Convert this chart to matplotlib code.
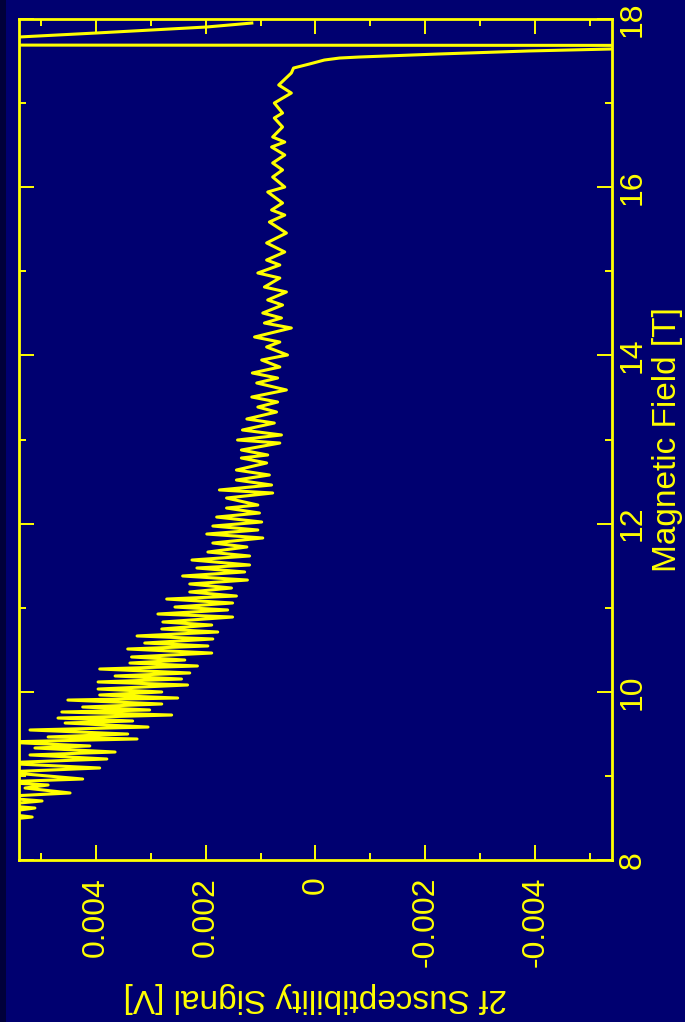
import matplotlib

matplotlib.use("Agg")

import matplotlib.pyplot as plt
import numpy as np
from matplotlib.patches import Rectangle
from matplotlib.ticker import MultipleLocator

BG = "#000070"
FG = "#FFFF00"

# turning points of the 2f trace: field in tesla, signal in mV
field_t = [
    8.476, 8.511, 8.559, 8.618, 8.654, 8.702, 8.749, 8.797, 8.856, 8.892,
    8.927, 8.963, 9.046, 9.094, 9.153, 9.201, 9.249, 9.284, 9.332, 9.356,
    9.403, 9.439, 9.463, 9.498, 9.546, 9.581, 9.629, 9.653, 9.688, 9.724,
    9.760, 9.784, 9.819, 9.855, 9.902, 9.926, 9.962, 9.998, 10.033, 10.081,
    10.117, 10.152, 10.188, 10.224, 10.271, 10.307, 10.342, 10.378, 10.414, 10.461,
    10.509, 10.545, 10.580, 10.628, 10.664, 10.711, 10.747, 10.794, 10.830, 10.889,
    10.925, 10.973, 11.008, 11.056, 11.103, 11.139, 11.187, 11.234, 11.282, 11.329,
    11.377, 11.425, 11.472, 11.508, 11.567, 11.615, 11.662, 11.722, 11.769, 11.829,
    11.876, 11.924, 11.971, 12.019, 12.078, 12.126, 12.185, 12.221, 12.304, 12.364,
    12.400, 12.459, 12.518, 12.578, 12.637, 12.721, 12.780, 12.816, 12.875, 12.958,
    12.994, 13.054, 13.113, 13.196, 13.244, 13.327, 13.386, 13.446, 13.505, 13.589,
    13.672, 13.731, 13.791, 13.862, 13.945, 14.005, 14.100, 14.159, 14.219, 14.326,
    14.385, 14.445, 14.504, 14.599, 14.659, 14.754, 14.813, 14.920, 14.980, 15.075,
    15.134, 15.230, 15.337, 15.455, 15.586, 15.669, 15.729, 15.812, 15.943, 16.002,
    16.121, 16.205, 16.288, 16.383, 16.478, 16.537, 16.597, 16.716, 16.823, 16.882,
    17.001, 17.120, 17.215, 17.358, 17.417, 17.465, 17.512, 17.536, 17.548, 17.584,
    17.620, 17.643, 17.679, 17.697, 17.738, 17.786, 17.834, 17.905, 17.952,
]
signal_mv = [
    5.70, 5.16, 5.80, 5.11, 5.80, 4.98, 5.90, 4.47, 5.29, 4.87,
    5.80, 4.24, 5.70, 3.93, 5.80, 3.80, 5.20, 3.65, 5.11, 4.11,
    5.70, 3.25, 4.87, 3.42, 5.20, 3.05, 4.56, 3.33, 4.69, 2.62,
    4.62, 3.02, 4.24, 2.80, 4.51, 2.51, 3.93, 2.80, 3.96, 2.33,
    3.96, 2.44, 3.65, 2.29, 3.93, 2.15, 3.38, 2.38, 3.35, 1.89,
    3.42, 1.96, 3.11, 1.87, 3.25, 1.78, 2.80, 1.89, 2.78, 1.51,
    2.87, 1.60, 2.56, 1.51, 2.71, 1.44, 2.29, 1.53, 2.29, 1.24,
    2.42, 1.29, 2.16, 1.20, 2.25, 1.20, 1.96, 1.25, 1.87, 0.96,
    1.98, 1.05, 1.87, 0.98, 1.80, 1.02, 1.62, 1.05, 1.62, 0.78,
    1.75, 0.80, 1.44, 0.84, 1.44, 0.89, 1.35, 0.87, 1.35, 0.65,
    1.42, 0.62, 1.33, 0.75, 1.25, 0.71, 1.05, 0.69, 1.16, 0.53,
    1.07, 0.69, 1.15, 0.65, 0.98, 0.51, 0.89, 0.65, 1.11, 0.44,
    0.93, 0.62, 0.96, 0.60, 0.87, 0.53, 0.93, 0.65, 1.05, 0.65,
    0.89, 0.56, 0.89, 0.53, 0.84, 0.56, 0.80, 0.60, 0.87, 0.56,
    0.78, 0.60, 0.78, 0.56, 0.80, 0.56, 0.78, 0.60, 0.75, 0.60,
    0.75, 0.44, 0.67, 0.44, 0.40, 0.11, -0.16, -0.44, -0.80, -2.25,
    -3.89, -5.38, -30.0, 30.0, 10.0, 5.40, 3.98, 1.98, 1.16,
]

signal_ticks = [0.004, 0.002, 0.0, -0.002, -0.004]
signal_labels = ["0.004", "0.002", "0", "-0.002", "-0.004"]
field_ticks = [8, 10, 12, 14, 16, 18]

plt.rcParams["font.family"] = ["Liberation Sans", "DejaVu Sans"]

fig = plt.figure(figsize=(6.85, 10.22), dpi=100, facecolor=BG)
fig.patches.append(Rectangle((0, 0), 6 / 685, 1, transform=fig.transFigure,
                             facecolor="#00003a", edgecolor="none"))

ax = fig.add_axes([19 / 685, 162 / 1022, 593 / 685, 841 / 1022])
ax.set_facecolor(BG)

signal = np.array(signal_mv) * 1e-3
ax.plot(signal, field_t, color=FG, lw=2.2, solid_joinstyle="round")

ax.set_xlim(0.0054, -0.0054)
ax.set_ylim(8, 18)

ax.set_xticks(signal_ticks)
ax.set_xticklabels(signal_labels, rotation=90)
ax.set_yticks(field_ticks)
ax.xaxis.set_minor_locator(MultipleLocator(0.001))
ax.yaxis.set_minor_locator(MultipleLocator(1))

ax.tick_params(which="both", direction="in", colors=FG,
               top=True, bottom=True, left=True, right=True,
               labelleft=False, labelright=True, labelsize=23)
ax.tick_params(which="major", length=11, width=1.4)
ax.tick_params(which="minor", length=5, width=1.4)
ax.tick_params(axis="x", pad=12)
ax.tick_params(axis="y", pad=4, labelrotation=90)
for lbl in ax.get_yticklabels():
    lbl.set_verticalalignment("center")

for spine in ax.spines.values():
    spine.set_color(FG)
    spine.set_linewidth(2.0)

ax.yaxis.set_label_position("right")
ax.set_ylabel("Magnetic Field [T]", color=FG, fontsize=24)
ax.yaxis.set_label_coords(1.068, 0.5)
ax.set_xlabel("2f Susceptibility Signal [V]", color=FG, fontsize=24,
              rotation=180, va="center")
ax.xaxis.set_label_coords(0.5, -0.163)

fig.savefig("out.png", dpi=100, facecolor=BG)
